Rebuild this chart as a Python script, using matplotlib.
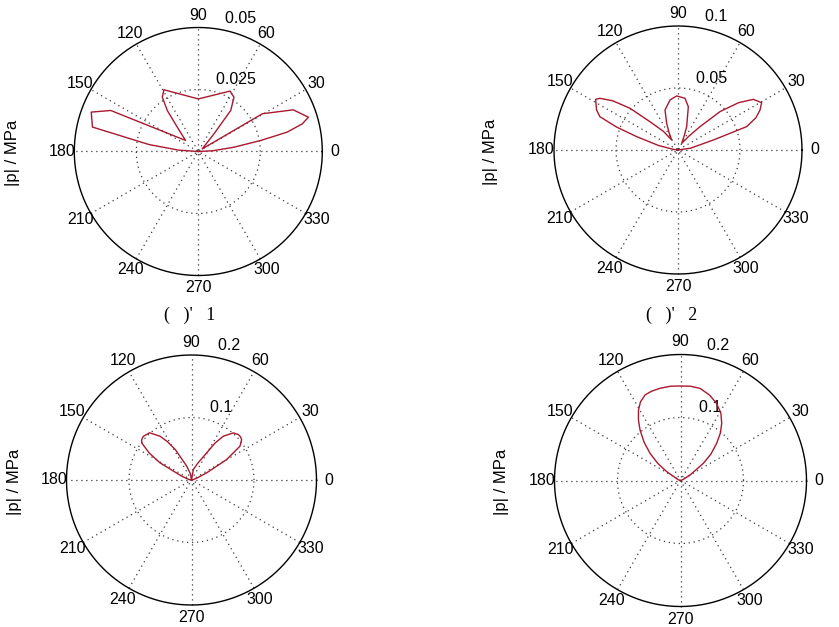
import numpy as np
import matplotlib
matplotlib.use('Agg')
import matplotlib.pyplot as plt

W, H, DPI = 839, 627, 100

# ---- data (angle in degrees, |p| in MPa) ----
theta1 = [0, 3, 6.9, 10, 12.3, 14.9, 17.3, 23.7, 30.5, 33.7, 48.4, 51.7, 56.7, 62.3,
          90, 119.1, 123.5, 127.1, 130.8, 139, 154.9, 159.8, 167, 172, 176, 180]
rho1 = [0.0, 0.006, 0.0145, 0.0255, 0.0367, 0.0434, 0.0465, 0.0418, 0.0300, 0.0019,
        0.0095, 0.0211, 0.0262, 0.0275, 0.0212, 0.0285, 0.0263, 0.0207, 0.0130,
        0.0068, 0.0390, 0.0460, 0.0438, 0.020, 0.008, 0.0]

theta2 = [0, 8, 15.8, 18.8, 22.5, 26, 29.5, 33.9, 38, 42.4, 46.7, 52, 61, 66, 69.6,
          76.6, 82.3, 91.4, 99, 108, 113, 117, 122.3, 128, 134.7, 139, 143, 146.5,
          148.4, 153.8, 156.9, 159.5, 162.1, 167, 172, 180]
rho2 = [0.0, 0.010, 0.0297, 0.0585, 0.0680, 0.0736, 0.0775, 0.0732, 0.0620, 0.0459,
        0.0259, 0.0140, 0.0061, 0.0120, 0.0201, 0.0359, 0.0421, 0.0436, 0.0409,
        0.0339, 0.0234, 0.0160, 0.0096, 0.0190, 0.0321, 0.0513, 0.0660, 0.0755,
        0.0780, 0.0732, 0.0685, 0.0530, 0.0350, 0.0160, 0.0038, 0.0]

theta3 = [0, 10, 20, 25.3, 30.2, 34.9, 38.9, 41.5, 44.2, 48.4, 54, 57.5, 60.8, 70,
          80, 90, 100, 109, 118, 122, 125.7, 131.6, 137.7, 140.9, 143.3, 147.5,
          151.4, 158.7, 170, 180]
rho3 = [0.0, 0.002, 0.010, 0.0268, 0.065, 0.0946, 0.1031, 0.1045, 0.1044, 0.1008,
        0.0866, 0.0700, 0.0498, 0.028, 0.017, 0.0, 0.010, 0.0234, 0.055, 0.0720,
        0.0863, 0.1010, 0.1040, 0.1027, 0.0994, 0.0800, 0.0574, 0.0169, 0.004, 0.0]

theta4 = [0, 20, 30, 36.9, 41, 45.8, 50, 54.2, 59, 64.9, 71, 78, 84, 90, 96, 102.5,
          108, 112.5, 117, 120.9, 124.8, 128.7, 133.5, 138.3, 143, 147.4, 160, 180]
rho4 = [0.0, 0.004, 0.0174, 0.0453, 0.0640, 0.0823, 0.0985, 0.1118, 0.1245, 0.135,
        0.1430, 0.1495, 0.1505, 0.150, 0.1505, 0.1499, 0.1490, 0.147, 0.1400, 0.130,
        0.1170, 0.1027, 0.0840, 0.0648, 0.0450, 0.026, 0.004, 0.0]

rmax_list = [0.05, 0.1, 0.2, 0.2]
rtick_labels = [['0.025', '0.05'], ['0.05', '0.1'], ['0.1', '0.2'], ['0.1', '0.2']]
spoke_angles = [30, 60, 90, 120, 150, 180]
ylabel_text = '|p| / MPa'
captions = ["(   )'   1", "(   )'   2"]

series = [(theta1, rho1), (theta2, rho2), (theta3, rho3), (theta4, rho4)]

# ---- layout (pixel centres and radii) ----
centers = [(198.3, 151.5, 124), (678, 150, 124), (191.5, 480, 125), (680.5, 480.5, 126)]
ylabel_pos = [(12.5, 152.5), (490.8, 152), (15, 482), (501.7, 482)]
caption_pos = [(190, 315), (672, 315)]

LINE_C = '#a8182f'
GRID_C = '#3a3a3a'
DOT = (0, (1, 3))
FONT = 'Liberation Sans'

fig = plt.figure(figsize=(W / DPI, H / DPI), dpi=DPI)

for i, ((th, rh), rm, rlabs, (cx, cy, R)) in enumerate(zip(series, rmax_list, rtick_labels, centers)):
    k = 1.35
    ax = fig.add_axes([(cx - k * R) / W, 1 - (cy + k * R) / H, 2 * k * R / W, 2 * k * R / H])
    ax.set_xlim(-k * rm, k * rm)
    ax.set_ylim(-k * rm, k * rm)
    ax.set_axis_off()
    ax.patch.set_visible(False)

    t = np.linspace(0, 2 * np.pi, 721)
    nr = len(rlabs)
    for j, lab in enumerate(rlabs):
        r = rm * (j + 1) / nr
        if j == nr - 1:
            ax.plot(r * np.cos(t), r * np.sin(t), color='black', lw=1.0, zorder=2)
        else:
            ax.plot(r * np.cos(t), r * np.sin(t), color=GRID_C, lw=0.9, ls=DOT, zorder=1)
        rinc = rm / nr
        a82 = np.deg2rad(82)
        ax.text((r + rinc / 20) * np.cos(a82), (r + rinc / 20) * np.sin(a82), '  ' + lab,
                ha='left', va='bottom', fontsize=11.5, family=FONT, zorder=3)

    for a in spoke_angles:
        ar = np.deg2rad(a)
        ax.plot([-rm * np.cos(ar), rm * np.cos(ar)], [-rm * np.sin(ar), rm * np.sin(ar)],
                color=GRID_C, lw=0.9, ls=DOT, zorder=1)
        rt = 1.1 * rm
        ax.text(rt * np.cos(ar), rt * np.sin(ar), str(a), ha='center', va='center',
                fontsize=11.5, family=FONT)
        opp = 0 if a == 180 else 180 + a
        ax.text(-rt * np.cos(ar), -rt * np.sin(ar), str(opp), ha='center', va='center',
                fontsize=11.5, family=FONT)

    thr = np.deg2rad(np.array(th))
    rr = np.array(rh)
    ax.plot(rr * np.cos(thr), rr * np.sin(thr), color=LINE_C, lw=1.0, zorder=4)

    yx, yy = ylabel_pos[i]
    fig.text(yx / W, 1 - yy / H, ylabel_text, rotation=90, ha='center', va='center',
             fontsize=12, family=FONT)

for (px, py), cap in zip(caption_pos, captions):
    fig.text(px / W, 1 - py / H, cap, ha='center', va='center', fontsize=13,
             family='Liberation Serif')

fig.savefig('out.png', dpi=DPI)
